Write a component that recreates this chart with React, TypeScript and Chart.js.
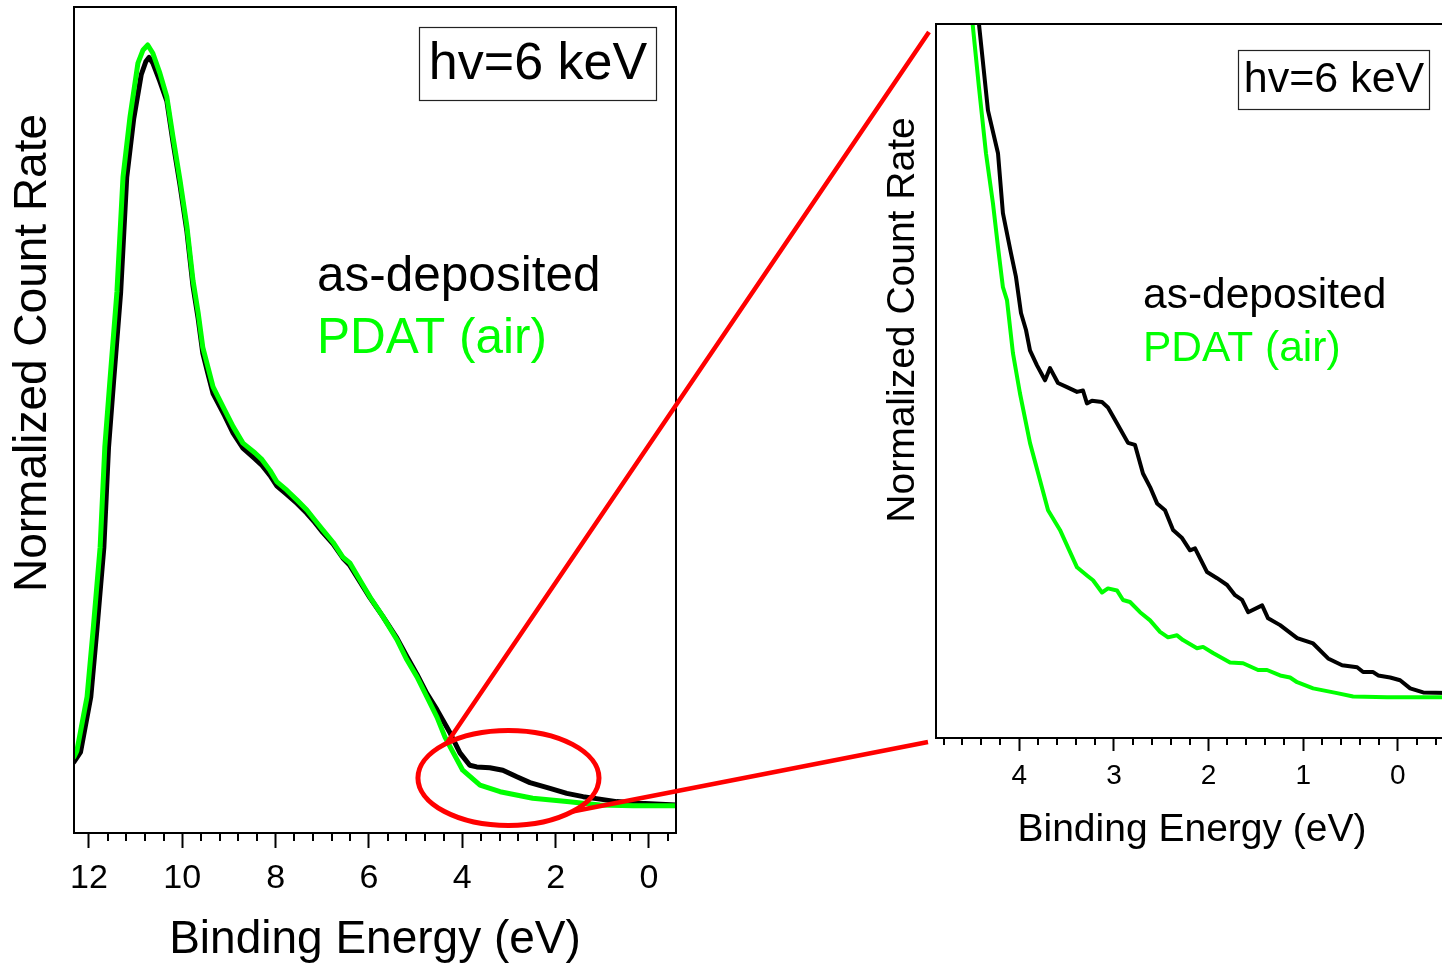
import React, { useEffect, useRef } from 'react';
import { Chart, registerables } from 'chart.js';

Chart.register(...registerables);

const FONT = "'Liberation Sans', Arial, Helvetica, sans-serif";
const GREEN = '#00ff00';
const RED = '#ff0000';

// ---------- tick labels ----------
const mainTickLabels = [0, 2, 4, 6, 8, 10, 12];
const insetTickLabels = [0, 1, 2, 3, 4];

// ---------- main panel: as-deposited (black) ----------
const asDepEnergy = [12.32, 12.18, 11.96, 11.83, 11.68, 11.58, 11.47, 11.32, 11.19, 11.04, 10.88, 10.78, 10.71, 10.63, 10.48, 10.33, 10.2, 10.05, 9.9, 9.77, 9.66, 9.56, 9.45, 9.34, 9.09, 8.91, 8.7, 8.44, 8.29, 8.12, 7.97, 7.76, 7.54, 7.33, 7.16, 6.99, 6.77, 6.56, 6.41, 6.19, 5.98, 5.7, 5.4, 5.19, 4.97, 4.76, 4.54, 4.26, 4.05, 3.84, 3.69, 3.41, 3.13, 2.83, 2.55, 2.12, 1.76, 1.41, 1.05, 0.69, 0.19, -0.58];
const asDepCounts = [8.6, 9.8, 16.5, 24.6, 34.6, 46.7, 54.8, 65.5, 79.4, 86.5, 91.8, 93.4, 93.9, 93.2, 91.0, 88.6, 83.7, 78.5, 72.8, 66.2, 62.3, 58.1, 55.6, 53.2, 50.5, 48.4, 46.6, 45.3, 44.5, 43.3, 42.0, 41.0, 39.9, 38.7, 37.6, 36.4, 35.0, 33.3, 32.4, 30.4, 28.5, 26.2, 23.6, 21.4, 19.2, 16.9, 14.9, 12.1, 9.7, 8.2, 8.0, 7.9, 7.6, 6.8, 6.1, 5.4, 4.8, 4.4, 4.1, 3.8, 3.6, 3.4];

// ---------- main panel: PDAT (air) (green) ----------
const pdatEnergy = [12.32, 12.26, 12.04, 11.91, 11.76, 11.66, 11.55, 11.4, 11.27, 11.12, 10.95, 10.84, 10.74, 10.63, 10.48, 10.33, 10.2, 10.05, 9.9, 9.77, 9.66, 9.56, 9.45, 9.34, 9.09, 8.91, 8.7, 8.44, 8.29, 8.12, 7.97, 7.76, 7.54, 7.33, 7.16, 6.99, 6.77, 6.56, 6.41, 6.19, 5.98, 5.7, 5.4, 5.19, 4.97, 4.76, 4.54, 4.37, 4.22, 3.99, 3.62, 3.19, 2.49, 1.76, 1.05, 0.34, -0.58];
const pdatCounts = [9.2, 9.9, 16.5, 24.6, 34.6, 46.7, 54.8, 65.5, 79.4, 86.7, 93.2, 94.8, 95.4, 94.4, 92.0, 89.1, 84.3, 79.1, 73.4, 66.9, 63.0, 58.8, 56.4, 54.0, 51.2, 49.2, 47.2, 46.0, 45.2, 43.9, 42.5, 41.5, 40.3, 39.1, 37.9, 36.7, 35.2, 33.4, 32.7, 30.6, 28.6, 26.2, 23.4, 21.0, 18.9, 16.5, 14.0, 11.6, 10.0, 7.6, 5.8, 5.0, 4.2, 3.8, 3.4, 3.3, 3.3];

// ---------- inset: as-deposited (black) ----------
const insetAsDepEnergy = [4.45, 4.426, 4.331, 4.225, 4.173, 4.088, 4.035, 3.982, 3.929, 3.887, 3.813, 3.728, 3.675, 3.591, 3.496, 3.39, 3.327, 3.285, 3.232, 3.126, 3.063, 2.968, 2.851, 2.777, 2.693, 2.618, 2.544, 2.46, 2.375, 2.28, 2.196, 2.143, 2.016, 1.91, 1.804, 1.72, 1.646, 1.582, 1.434, 1.371, 1.244, 1.064, 0.895, 0.737, 0.589, 0.43, 0.367, 0.261, 0.208, 0.081, -0.024, -0.13, -0.268, -0.53];
const insetAsDepCounts = [13.6, 13.3, 12.03, 11.4, 10.52, 9.93, 9.58, 9.05, 8.8, 8.5, 8.28, 8.06, 8.24, 8.02, 7.96, 7.89, 7.91, 7.72, 7.76, 7.74, 7.66, 7.43, 7.14, 7.11, 6.69, 6.49, 6.25, 6.15, 5.86, 5.74, 5.56, 5.59, 5.24, 5.15, 5.05, 4.9, 4.83, 4.65, 4.75, 4.56, 4.46, 4.27, 4.19, 3.97, 3.87, 3.84, 3.77, 3.77, 3.72, 3.69, 3.65, 3.53, 3.47, 3.46];

// ---------- inset: PDAT (air) (green) ----------
const insetPdatEnergy = [4.52, 4.493, 4.426, 4.352, 4.278, 4.225, 4.173, 4.13, 4.067, 3.993, 3.887, 3.781, 3.696, 3.57, 3.39, 3.285, 3.221, 3.126, 3.063, 2.968, 2.904, 2.83, 2.724, 2.618, 2.513, 2.428, 2.333, 2.27, 2.122, 2.058, 1.953, 1.773, 1.635, 1.477, 1.382, 1.244, 1.139, 1.064, 0.895, 0.642, 0.473, 0.113, -0.236, -0.53];
const insetPdatCounts = [13.6, 13.3, 12.37, 11.4, 10.66, 10.02, 9.43, 9.24, 8.46, 7.87, 7.14, 6.59, 6.15, 5.86, 5.31, 5.19, 5.12, 4.94, 5.0, 4.97, 4.83, 4.8, 4.65, 4.53, 4.36, 4.28, 4.31, 4.24, 4.12, 4.14, 4.05, 3.91, 3.9, 3.8, 3.8, 3.72, 3.69, 3.62, 3.53, 3.46, 3.41, 3.4, 3.4, 3.4];

// ---------- annotation texts ----------
const photonLabel = 'hv=6 keV';
const seriesNames = ['as-deposited', 'PDAT (air)'];
const xTitle = 'Binding Energy (eV)';
const yTitle = 'Normalized Count Rate';

// zoom-region ellipse (data coords of main panel)
const zoomCenter = [3.01, 6.66];
const zoomRadii = [1.94, 5.75];

const toPoints = (xs: number[], ys: number[]) => xs.map((x, i) => ({ x, y: ys[i] }));

function drawMinorTicks(ctx: CanvasRenderingContext2D, x: any, bottom: number, step: number, majorEvery: number, len: number) {
  ctx.beginPath();
  const k0 = Math.ceil(x.min / step - 1e-9);
  for (let k = k0; k * step <= x.max + 1e-9; k++) {
    const v = k * step;
    const r = v / majorEvery;
    if (Math.abs(r - Math.round(r)) < 1e-6) continue;
    const px = Math.round(x.getPixelForValue(v));
    ctx.moveTo(px, bottom);
    ctx.lineTo(px, bottom + len);
  }
  ctx.stroke();
}

function drawRotatedTitle(ctx: CanvasRenderingContext2D, text: string, cx: number, cy: number, size: number) {
  ctx.save();
  ctx.translate(cx, cy);
  ctx.rotate(-Math.PI / 2);
  ctx.font = `${size}px ${FONT}`;
  ctx.fillStyle = '#000';
  ctx.textAlign = 'center';
  ctx.textBaseline = 'middle';
  ctx.fillText(text, 0, 0);
  ctx.restore();
}

const mainDecor = {
  id: 'mainDecor',
  afterDraw(chart: any) {
    const { ctx, chartArea: a, scales } = chart;
    const x = scales.x;
    const y = scales.y;
    ctx.save();
    ctx.strokeStyle = '#000';
    ctx.lineWidth = 2;
    ctx.strokeRect(a.left, a.top, a.right - a.left, a.bottom - a.top);
    drawMinorTicks(ctx, x, a.bottom, 0.4, 2, 8);

    // photon energy box
    ctx.lineWidth = 1.2;
    ctx.strokeStyle = '#222';
    ctx.strokeRect(a.left + 345.5, a.top + 20.5, 237, 73);
    ctx.fillStyle = '#000';
    ctx.font = `52px ${FONT}`;
    ctx.textAlign = 'center';
    ctx.textBaseline = 'middle';
    ctx.fillText(photonLabel, a.left + 345.5 + 118.5, a.top + 20.5 + 37);

    // series labels
    ctx.textAlign = 'left';
    ctx.textBaseline = 'alphabetic';
    ctx.font = `49.5px ${FONT}`;
    ctx.fillStyle = '#000';
    ctx.fillText(seriesNames[0], a.left + 243, a.top + 284);
    ctx.fillStyle = GREEN;
    ctx.fillText(seriesNames[1], a.left + 243, a.top + 346);

    // y title
    drawRotatedTitle(ctx, yTitle, a.left - 41, a.top + 346, 46);

    // zoom ellipse + connector lines
    const cx = x.getPixelForValue(zoomCenter[0]);
    const cy = y.getPixelForValue(zoomCenter[1]);
    const rx = Math.abs(x.getPixelForValue(zoomCenter[0] - zoomRadii[0]) - cx);
    const ry = Math.abs(y.getPixelForValue(zoomCenter[1] + zoomRadii[1]) - cy);
    ctx.strokeStyle = RED;
    ctx.lineWidth = 5;
    ctx.beginPath();
    ctx.ellipse(cx, cy, rx, ry, 0, 0, Math.PI * 2);
    ctx.stroke();
    const t1 = (-133 * Math.PI) / 180;
    const t2 = (45 * Math.PI) / 180;
    ctx.lineWidth = 4.5;
    ctx.beginPath();
    ctx.moveTo(cx + rx * Math.cos(t1), cy + ry * Math.sin(t1));
    ctx.lineTo(a.right + 253, a.top + 25);
    ctx.moveTo(cx + rx * Math.cos(t2), cy + ry * Math.sin(t2));
    ctx.lineTo(a.right + 252, a.bottom - 91);
    ctx.stroke();
    ctx.restore();
  },
};

const insetDecor = {
  id: 'insetDecor',
  afterDraw(chart: any) {
    const { ctx, chartArea: a, scales } = chart;
    const x = scales.x;
    ctx.save();
    ctx.strokeStyle = '#000';
    ctx.lineWidth = 2;
    ctx.strokeRect(a.left, a.top, a.right - a.left, a.bottom - a.top);
    drawMinorTicks(ctx, x, a.bottom, 0.2, 1, 7);

    ctx.lineWidth = 1.2;
    ctx.strokeStyle = '#222';
    ctx.strokeRect(a.left + 302.5, a.top + 26.5, 191, 59);
    ctx.fillStyle = '#000';
    ctx.font = `43px ${FONT}`;
    ctx.textAlign = 'center';
    ctx.textBaseline = 'middle';
    ctx.fillText(photonLabel, a.left + 302.5 + 95.5, a.top + 26.5 + 30);

    ctx.textAlign = 'left';
    ctx.textBaseline = 'alphabetic';
    ctx.font = `42.5px ${FONT}`;
    ctx.fillStyle = '#000';
    ctx.fillText(seriesNames[0], a.left + 207, a.top + 284);
    ctx.fillStyle = GREEN;
    ctx.fillText(seriesNames[1], a.left + 207, a.top + 337);

    drawRotatedTitle(ctx, yTitle, a.left - 33, a.top + 296, 39);
    ctx.restore();
  },
};

export default function App() {
  const mainRef = useRef<HTMLCanvasElement | null>(null);
  const insetRef = useRef<HTMLCanvasElement | null>(null);

  useEffect(() => {
    Chart.defaults.font.family = FONT;
    Chart.defaults.color = '#000';

    const lineDs = (label: string, pts: any[], color: string, width: number, order: number) => ({
      label,
      data: pts,
      borderColor: color,
      backgroundColor: color,
      borderWidth: width,
      pointRadius: 0,
      tension: 0,
      fill: false,
      order,
      borderJoinStyle: 'round' as const,
      borderCapStyle: 'round' as const,
    });

    const mainChart = new Chart(mainRef.current as HTMLCanvasElement, {
      type: 'line',
      data: {
        datasets: [
          lineDs(seriesNames[1], toPoints(pdatEnergy, pdatCounts), GREEN, 5, 0),
          lineDs(seriesNames[0], toPoints(asDepEnergy, asDepCounts), '#000', 5, 1),
        ],
      },
      options: {
        responsive: false,
        animation: false,
        devicePixelRatio: 1,
        layout: { padding: { left: 0, top: 7, right: 766, bottom: 0 } },
        plugins: { legend: { display: false }, tooltip: { enabled: false } },
        scales: {
          x: {
            type: 'linear',
            reverse: true,
            min: -0.58,
            max: 12.32,
            afterBuildTicks: (s: any) => {
              s.ticks = mainTickLabels.map((v) => ({ value: v }));
            },
            afterFit: (s: any) => {
              s.height = 133;
            },
            ticks: {
              color: '#000',
              font: { size: 34 },
              padding: 10,
              maxRotation: 0,
              autoSkip: false,
              callback: (v: any) => String(v),
            },
            grid: { drawOnChartArea: false, drawTicks: true, tickLength: 15, tickWidth: 2, tickColor: '#000', color: '#000' },
            border: { display: true, color: '#000', width: 2 },
            title: {
              display: true,
              text: xTitle,
              color: '#000',
              font: { size: 46, lineHeight: 1 },
              padding: { top: 0, bottom: 2.5 },
            },
          },
          y: {
            type: 'linear',
            min: 0,
            max: 100,
            ticks: { display: false },
            grid: { display: false },
            border: { display: true, color: '#000', width: 2 },
            afterFit: (s: any) => {
              s.width = 74;
            },
          },
        },
      },
      plugins: [mainDecor],
    });

    const insetChart = new Chart(insetRef.current as HTMLCanvasElement, {
      type: 'line',
      data: {
        datasets: [
          lineDs(seriesNames[1], toPoints(insetPdatEnergy, insetPdatCounts), GREEN, 4, 0),
          lineDs(seriesNames[0], toPoints(insetAsDepEnergy, insetAsDepCounts), '#000', 4, 1),
        ],
      },
      options: {
        responsive: false,
        animation: false,
        devicePixelRatio: 1,
        layout: { padding: { left: 0, top: 24, right: 2, bottom: 0 } },
        plugins: { legend: { display: false }, tooltip: { enabled: false } },
        scales: {
          x: {
            type: 'linear',
            reverse: true,
            min: -0.53,
            max: 4.88,
            afterBuildTicks: (s: any) => {
              s.ticks = insetTickLabels.map((v) => ({ value: v }));
            },
            afterFit: (s: any) => {
              s.height = 122;
            },
            ticks: {
              color: '#000',
              font: { size: 28 },
              padding: 8,
              maxRotation: 0,
              autoSkip: false,
              callback: (v: any) => String(v),
            },
            grid: { drawOnChartArea: false, drawTicks: true, tickLength: 13, tickWidth: 2, tickColor: '#000', color: '#000' },
            border: { display: true, color: '#000', width: 2 },
            title: {
              display: true,
              text: xTitle,
              color: '#000',
              font: { size: 39, lineHeight: 1 },
              padding: { top: 0, bottom: 10 },
            },
          },
          y: {
            type: 'linear',
            min: 2.8,
            max: 13.3,
            ticks: { display: false },
            grid: { display: false },
            border: { display: true, color: '#000', width: 2 },
            afterFit: (s: any) => {
              s.width = 96;
            },
          },
        },
      },
      plugins: [insetDecor],
    });

    return () => {
      mainChart.destroy();
      insetChart.destroy();
    };
  }, []);

  return (
    <div
      style={{
        position: 'fixed',
        left: 0,
        top: 0,
        width: 1442,
        height: 966,
        overflow: 'hidden',
        background: '#fff',
      }}
    >
      <canvas
        ref={mainRef}
        width={1442}
        height={966}
        style={{ position: 'absolute', left: 0, top: 0, width: 1442, height: 966 }}
      />
      <canvas
        ref={insetRef}
        width={610}
        height={860}
        style={{ position: 'absolute', left: 840, top: 0, width: 610, height: 860 }}
      />
    </div>
  );
}
